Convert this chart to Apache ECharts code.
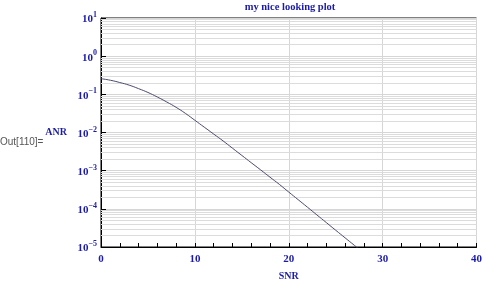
<!DOCTYPE html>
<html>
<head>
<meta charset="utf-8">
<script src="https://cdn.jsdelivr.net/npm/echarts@6/dist/echarts.min.js"></script>
<style>html,body{margin:0;padding:0;background:#fff;}#c{width:485px;height:286px;}</style>
</head>
<body>
<div id="c"></div>
<script>
var snr = [0,1,2,3,4,5,6,7,8,9,10,11,12,13,14,15,16,17,18,19,20,21,22,23,24,25,26,27,28];
var anr = [0.257,0.234,0.204,0.174,0.141,0.112,0.0851,0.0631,0.0457,0.0316,0.0209,0.0138,0.00912,0.00603,0.00389,0.00251,0.00162,0.00105,0.000676,0.000437,0.000275,0.000174,0.000110,0.0000692,0.0000437,0.0000275,0.0000174,0.0000110,0.0000069];
var xTicks = [0,10,20,30,40];
var decades = [-5,-4,-3,-2,-1,0];
var minorMult = [2,3,4,5,6,7,8,9];

var blue = '#1c1ca8';
var serif = '"Liberation Serif","DejaVu Serif",serif';
var xMin = xTicks[0], xMax = xTicks[xTicks.length-1];
var minorLines = [];
decades.forEach(function(d){ minorMult.forEach(function(m){
  var v = m*Math.pow(10,d);
  minorLines.push({coords:[[xMin, v],[xMax, v]]});
}); });

var chart = echarts.init(document.getElementById('c'));
chart.setOption({
  animation:false,
  title:{text:'my nice looking plot', left:290, textAlign:'center', top:2, padding:0,
    textStyle:{fontFamily:serif, fontWeight:'bold', fontSize:10.5, color:blue}},
  grid:{left:101, right:6, top:18, bottom:34, show:true, borderColor:'#000', borderWidth:1},
  graphic:[{type:'text', left:0, top:137, style:{text:'Out[110]=', fontFamily:'"Liberation Sans",Arial,sans-serif', fontSize:10, fill:'#555'}}],
  xAxis:{type:'value', min:xMin, max:xMax, interval:10,
    name:'SNR', nameLocation:'middle', nameGap:24,
    nameTextStyle:{fontFamily:serif, fontWeight:'bold', fontSize:10, color:blue},
    axisLine:{lineStyle:{color:'#000', width:1}},
    axisTick:{show:true, inside:true, length:4, lineStyle:{color:'#000'}},
    minorTick:{show:true, splitNumber:5, length:4, lineStyle:{color:'#000'}},
    axisLabel:{fontFamily:serif, fontWeight:'bold', fontSize:11, color:blue, margin:7},
    splitLine:{show:true, lineStyle:{color:'#d6d6d6', width:1}}
  },
  yAxis:{type:'log', logBase:10, min:1e-5, max:10, interval:1,
    name:'ANR', nameLocation:'middle', nameRotate:0, nameGap:34,
    nameTextStyle:{fontFamily:serif, fontWeight:'bold', fontSize:10, color:blue, align:'right'},
    axisLine:{show:true, lineStyle:{color:'#000', width:1}},
    axisTick:{show:true, inside:true, length:5, lineStyle:{color:'#000'}},
    axisLabel:{margin:4, formatter:function(v){
        var e = Math.round(Math.log10(v));
        return '{b|10}{e|' + (e<0 ? '\u2212'+(-e) : e) + '}';
      },
      rich:{b:{fontFamily:serif, fontWeight:'bold', fontSize:11, color:blue, verticalAlign:'bottom', lineHeight:14},
            e:{fontFamily:serif, fontWeight:'bold', fontSize:8, color:blue, verticalAlign:'top', lineHeight:14}}},
    splitLine:{show:true, lineStyle:{color:'#d6d6d6', width:1}}
  },
  series:[
    {type:'lines', coordinateSystem:'cartesian2d', silent:true, z:1,
      lineStyle:{color:'#dcdcdc', width:1, opacity:1, curveness:0}, data:minorLines},
    {type:'line', data:snr.map(function(x,i){return [x, anr[i]];}), z:3,
      showSymbol:false, smooth:true, clip:true,
      lineStyle:{color:'#4a4a6e', width:1}}
  ]
});
</script>
</body>
</html>
